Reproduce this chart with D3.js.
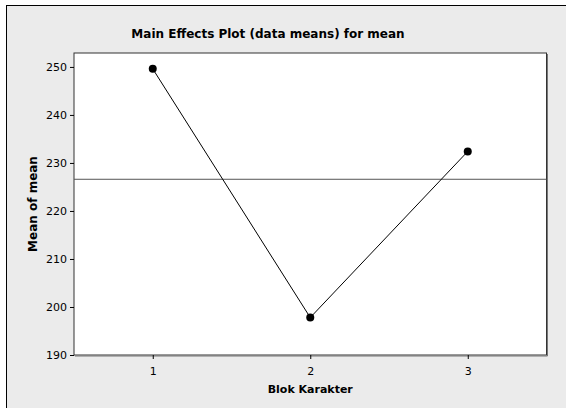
<!DOCTYPE html>
<html>
<head>
<meta charset="utf-8">
<title>Main Effects Plot</title>
<script src="https://d3js.org/d3.v7.min.js"></script>
<style>
  body { margin: 0; background: #fff; }
  text { font-family: "DejaVu Sans", Verdana, sans-serif; fill: #000; }
</style>
</head>
<body>
<div id="chart"></div>
<script>
// data
var levels = [1, 2, 3];
var means = [249.6, 197.8, 232.4];
var yTicks = [190, 200, 210, 220, 230, 240, 250];
var title = 'Main Effects Plot (data means) for mean';
var xTitle = 'Blok Karakter';
var yTitle = 'Mean of mean';

var width = 566, height = 408;
var plotL = 74, plotR = 546.5, plotT = 53, plotB = 355;

var svg = d3.select('#chart').append('svg')
    .attr('width', width)
    .attr('height', height);

// outer panel
svg.append('rect')
    .attr('x', 0).attr('y', 0).attr('width', width).attr('height', height)
    .style('fill', '#fff');
svg.append('rect')
    .attr('x', 6.5).attr('y', 5.5).attr('width', width + 10).attr('height', height + 10)
    .style('fill', '#ebebeb').style('stroke', '#000').style('stroke-width', 1);

var x = d3.scaleLinear().domain([0.5, 3.5]).range([plotL, plotR]);
var y = d3.scaleLinear().domain([190, 252.9]).range([plotB, plotT]);

// plot area
svg.append('rect')
    .attr('x', plotL).attr('y', plotT)
    .attr('width', plotR - plotL).attr('height', plotB - plotT)
    .style('fill', '#fff').style('stroke', '#333').style('stroke-width', 1);
// shadow on right and bottom edge
svg.append('path')
    .attr('d', 'M' + (plotR + 1) + ',' + (plotT + 1) + 'V' + (plotB + 1) + 'H' + (plotL + 1))
    .style('fill', 'none').style('stroke', '#777').style('stroke-width', 1);

var xAxis = svg.append('g')
    .attr('transform', 'translate(0,' + plotB + ')')
    .call(d3.axisBottom(x).tickValues(levels).tickFormat(d3.format('d')).tickSize(4).tickSizeOuter(0));
var yAxis = svg.append('g')
    .attr('transform', 'translate(' + plotL + ',0)')
    .call(d3.axisLeft(y).tickValues(yTicks).tickSize(4).tickSizeOuter(0));

[xAxis, yAxis].forEach(function (g) {
    g.select('.domain').remove();
    g.selectAll('line').style('stroke', '#000');
    g.selectAll('text').style('font-size', '11px').style('font-family', '"DejaVu Sans", sans-serif');
});
xAxis.selectAll('text').attr('y', 7).attr('dy', '1.2em');
yAxis.selectAll('text').attr('x', -7);

// grand mean reference line
var grand = d3.mean(means);
svg.append('line')
    .attr('x1', plotL).attr('x2', plotR)
    .attr('y1', y(grand)).attr('y2', y(grand))
    .style('stroke', '#555').style('stroke-width', 1);

var pts = levels.map(function (d, i) { return [d, means[i]]; });

svg.append('path')
    .datum(pts)
    .attr('d', d3.line().x(function (d) { return x(d[0]); }).y(function (d) { return y(d[1]); }))
    .style('fill', 'none').style('stroke', '#000').style('stroke-width', 1);

svg.selectAll('.pt')
    .data(pts)
    .enter().append('circle')
    .attr('class', 'pt')
    .attr('cx', function (d) { return x(d[0]); })
    .attr('cy', function (d) { return y(d[1]); })
    .attr('r', 4)
    .style('fill', '#000');

svg.append('text')
    .attr('x', 268).attr('y', 38)
    .attr('text-anchor', 'middle')
    .style('font-size', '12px').style('font-weight', 'bold')
    .text(title);

svg.append('text')
    .attr('x', (plotL + plotR) / 2).attr('y', 393)
    .attr('text-anchor', 'middle')
    .style('font-size', '11px').style('font-weight', 'bold')
    .text(xTitle);

svg.append('text')
    .attr('transform', 'translate(37,' + (plotT + plotB) / 2 + ') rotate(-90)')
    .attr('text-anchor', 'middle')
    .style('font-size', '12px').style('font-weight', 'bold')
    .text(yTitle);
</script>
</body>
</html>
